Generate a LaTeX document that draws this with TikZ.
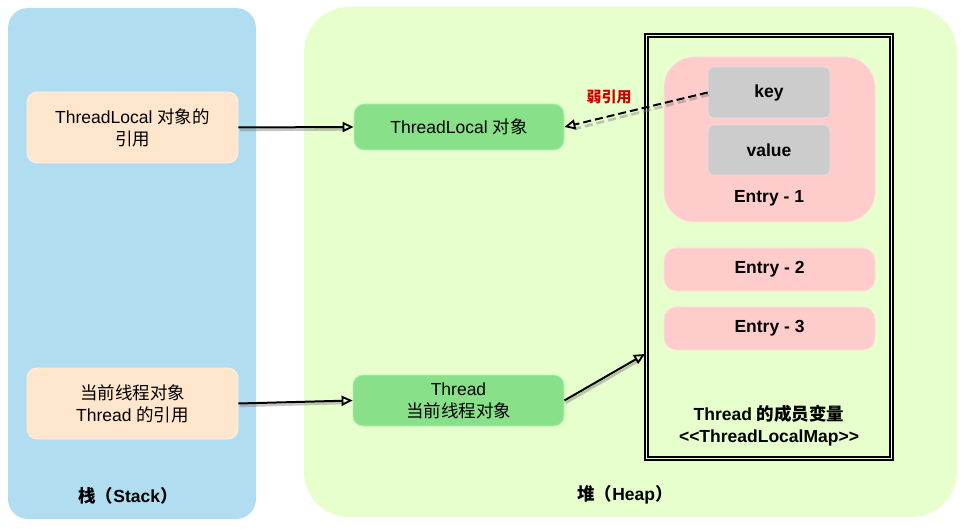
\documentclass[tikz,border=0pt]{standalone}
\usepackage{fontspec}
\setmainfont{Liberation Sans}
\newfontfamily\cjk{Noto Sans CJK SC}
\usetikzlibrary{arrows.meta}
\definecolor{stackblue}{HTML}{B1DDF0}
\definecolor{heapgreen}{HTML}{E6FFCC}
\definecolor{peach}{HTML}{FFE6CC}
\definecolor{objgreen}{HTML}{88E188}
\definecolor{entrypink}{HTML}{FFCCCC}
\definecolor{keygray}{HTML}{CCCCCC}
\definecolor{weakred}{HTML}{CC0000}
\begin{document}
\begin{tikzpicture}[x=1pt,y=-1pt,
  txt/.style={font=\fontsize{17.5}{22}\selectfont, align=center},
  btxt/.style={font=\fontsize{17.5}{22}\selectfont\bfseries, align=center},
  region/.style={rectangle, inner sep=0pt},
  refbox/.style={rectangle, fill=peach, draw=peach!60!white, line width=0.8pt, rounded corners=10pt, inner sep=0pt, txt},
  objbox/.style={rectangle, fill=objgreen, draw=objgreen!60!white, line width=0.8pt, rounded corners=10pt, inner sep=0pt, txt},
  entrybox/.style={rectangle, fill=entrypink, draw=entrypink!60!white, line width=0.6pt, inner sep=0pt, btxt},
  kvbox/.style={rectangle, fill=keygray, draw=keygray!60!white, line width=0.6pt, rounded corners=6pt, inner sep=0pt, btxt},
  arr/.style={draw=black, line width=2pt, -{Triangle[open, length=11pt, width=10pt, line width=1.8pt]}},
  arrshadow/.style={draw=black!50, opacity=0.45, line width=2.6pt, transform canvas={shift={(1.2pt,-2.4pt)}}},
]
\useasboundingbox (0,0) rectangle (971,529);

% regions
\node[region, fill=stackblue, rounded corners=20pt, minimum width=248pt, minimum height=511pt] (stack) at (132,263.5) {};
\node[region, fill=heapgreen, rounded corners=45pt, minimum width=653pt, minimum height=510pt] (heap) at (630.5,262) {};

\node[btxt] (stacklbl) at (128,496) {{\cjk 栈（}Stack{\cjk ）}};
\node[btxt] (heaplbl) at (625,495) {{\cjk 堆（}Heap{\cjk ）}};

% stack nodes
\node[refbox, minimum width=211pt, minimum height=71pt] (tlref) at (132.5,127.5) {ThreadLocal {\cjk 对象的}\\{\cjk 引用}};
\node[refbox, minimum width=211pt, minimum height=71pt] (thref) at (132.5,403.5) {{\cjk 当前线程对象}\\Thread {\cjk 的引用}};

% heap nodes
\node[objbox, minimum width=210pt, minimum height=46pt] (tlobj) at (459,127) {ThreadLocal {\cjk 对象}};
\node[objbox, minimum width=211pt, minimum height=51pt] (thobj) at (458.5,400.5) {Thread\\{\cjk 当前线程对象}};

% ThreadLocalMap double box
\node[region, draw=black, line width=2.4pt, minimum width=248pt, minimum height=426pt] (map) at (769,247) {};
\draw[line width=1.2pt] ([shift={(4.2pt,-4.2pt)}]map.north west) rectangle ([shift={(-4.2pt,4.2pt)}]map.south east);
\node[btxt] (maplbl) at (769,426) {Thread {\cjk 的成员变量}\\<\kern0pt<ThreadLocalMap>\kern0pt>};

% entries
\node[entrybox, rounded corners=30pt, minimum width=211pt, minimum height=165pt] (entry1) at (769.5,139.5) {};
\node[kvbox, minimum width=122pt, minimum height=51pt] (key) at (769,92.5) {key};
\node[kvbox, minimum width=122pt, minimum height=50pt] (value) at (769,150) {value};
\node[btxt] (e1lbl) at (769,198) {Entry - 1};
\node[entrybox, rounded corners=12pt, minimum width=211pt, minimum height=43pt] (entry2) at (769.5,269.5) {Entry - 2};
\node[entrybox, rounded corners=12pt, minimum width=211pt, minimum height=43pt] (entry3) at (769.5,328.5) {Entry - 3};

\coordinate (mapin) at (645,354);

% shadows of connectors
\draw[arrshadow] (tlref.east) -- ([xshift=-7pt]tlobj.west);
\draw[arrshadow] (thref.east) -- ([xshift=-7pt]thobj.west);
\draw[arrshadow] (thobj.east) -- ([shift={(-6pt,-3.5pt)}]mapin);
\draw[arrshadow, dash pattern=on 8pt off 4pt] (key.west) -- ([xshift=7pt]tlobj.east);

% connectors
\draw[arr] (tlref.east) -- (tlobj.west);
\draw[arr] (thref.east) -- (thobj.west);
\draw[arr] (thobj.east) -- (mapin);
\draw[arr, dash pattern=on 8pt off 4pt] (key.west) -- (tlobj.east);

\node[font=\fontsize{15}{18}\selectfont\bfseries\cjk, text=weakred] (weaklbl) at (609,97) {弱引用};
\end{tikzpicture}
\end{document}
